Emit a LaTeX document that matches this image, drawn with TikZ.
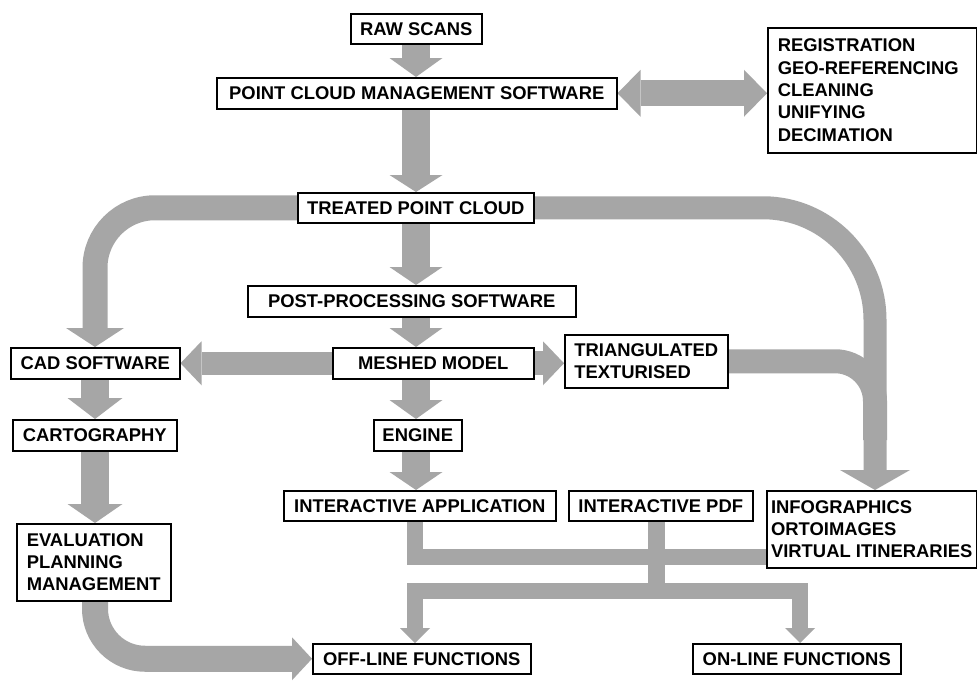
\documentclass[tikz,border=0pt]{standalone}
\usepackage{fontspec}
\setmainfont{Liberation Sans}
\usetikzlibrary{arrows.meta,backgrounds}
\definecolor{bandgray}{RGB}{166,166,166}
\begin{document}
\begin{tikzpicture}[x=1pt,y=-1pt,
  box/.style={draw=black,line width=1.5pt,fill=white,inner sep=0pt,anchor=north west,
    font=\fontsize{18.4}{22.3}\selectfont\bfseries},
  band/.style={draw=bandgray,line width=#1,line cap=butt,line join=miter},
  tipw/.style 2 args={arrows={-Triangle[width=#1,length=#2,line width=0pt]}},
  dbl/.style={arrows={Triangle[width=47pt,length=23pt,line width=0pt]-Triangle[width=47pt,length=23pt,line width=0pt]}}
]
\useasboundingbox (0,0) rectangle (977,680);
% boxes
\node[box,minimum width=131pt,minimum height=30pt] (raw) at (350,13) {RAW SCANS};
\node[box,minimum width=400pt,minimum height=31pt] (pcms) at (216,77) {POINT CLOUD MANAGEMENT SOFTWARE};
\node[box,minimum width=209pt,minimum height=125pt,align=left,text width=189pt,inner xsep=10pt] (reg) at (767,27)
  {REGISTRATION\\GEO-REFERENCING\\CLEANING\\UNIFYING\\DECIMATION};
\node[box,minimum width=236pt,minimum height=30pt] (treated) at (297,192) {TREATED POINT CLOUD};
\node[box,minimum width=328pt,minimum height=31pt] (post) at (247,285) {POST-PROCESSING SOFTWARE};
\node[box,minimum width=169pt,minimum height=31pt] (cad) at (10,347) {CAD SOFTWARE};
\node[box,minimum width=201pt,minimum height=31pt] (meshed) at (332,347) {MESHED MODEL};
\node[box,minimum width=163pt,minimum height=53pt,align=left] (tri) at (564,334) {TRIANGULATED\\TEXTURISED};
\node[box,minimum width=88pt,minimum height=31pt] (engine) at (373,419) {ENGINE};
\node[box,minimum width=164pt,minimum height=31pt] (carto) at (12,419) {CARTOGRAPHY};
\node[box,minimum width=272pt,minimum height=30pt] (ia) at (283,490) {INTERACTIVE APPLICATION};
\node[box,minimum width=184pt,minimum height=30pt] (pdf) at (568,490) {INTERACTIVE PDF};
\node[box,minimum width=210pt,minimum height=77pt,align=left] (info) at (766,490)
  {INFOGRAPHICS\\ORTOIMAGES\\VIRTUAL ITINERARIES};
\node[box,minimum width=154pt,minimum height=77pt,align=left] (eval) at (16,523) {EVALUATION\\PLANNING\\MANAGEMENT};
\node[box,minimum width=218pt,minimum height=30pt] (offline) at (312,643) {OFF-LINE FUNCTIONS};
\node[box,minimum width=208pt,minimum height=30pt] (online) at (692,643) {ON-LINE FUNCTIONS};
% helper coordinates
\coordinate (sx) at (416,0);
\coordinate (lx) at (95,0);
\coordinate (rx) at (875,0);
\coordinate (merge) at (875,440);
\coordinate (j1) at (415,556.5);
\coordinate (j2) at (656.5,590.5);
\coordinate (ox) at (800,0);
\begin{scope}[on background layer]
\fill[white] (0,0) rectangle (977,680);
\draw[band=28pt,tipw={53pt}{19pt}] (raw.south -| sx) -- (pcms.north -| sx);
\draw[band=28pt,tipw={53pt}{17pt}] (pcms.south -| sx) -- (treated.north -| sx);
\draw[band=28pt,tipw={53pt}{18pt}] (treated.south -| sx) -- (post.north -| sx);
\draw[band=28pt,tipw={53pt}{19pt}] (post.south -| sx) -- (meshed.north -| sx);
\draw[band=28pt,tipw={53pt}{19pt}] (meshed.south -| sx) -- (engine.north -| sx);
\draw[band=28pt,tipw={53pt}{18pt}] (engine.south -| sx) -- (ia.north -| sx);
\draw[band=26pt,dbl] (pcms.east) -- (reg.west |- pcms.east);
\draw[band=23pt,tipw={44pt}{21pt}] (meshed.west) -- (cad.east);
\draw[band=24pt,tipw={44pt}{21pt}] (meshed.east) -- (tri.west |- meshed.east);
\draw[band=28pt,tipw={55pt}{21pt}] (cad.south -| lx) -- (carto.north -| lx);
\draw[band=28pt,tipw={55pt}{19pt}] (carto.south -| lx) -- (eval.north -| lx);
\draw[band=25pt,rounded corners=60pt,tipw={58pt}{19pt}] (treated.west) -| (cad.north -| lx);
\draw[band=23pt,rounded corners=112pt,tipw={70pt}{20pt}] (treated.east) -| (info.north -| rx);
\draw[band=24pt,rounded corners=40pt] (tri.east) -| (merge);
\draw[band=26pt,rounded corners=50pt,tipw={43pt}{20pt}] (eval.south -| lx) |- (offline.west);
\draw[band=16pt] (ia.south -| j1) |- (info.west |- j1);
\draw[band=17pt] (pdf.south -| j2) -- (j2);
\draw[band=16pt,tipw={30pt}{15pt}] (j2) -| (offline.north -| j1);
\draw[band=16pt,tipw={30pt}{15pt}] (j2) -| (online.north -| ox);
\end{scope}
\end{tikzpicture}
\end{document}
